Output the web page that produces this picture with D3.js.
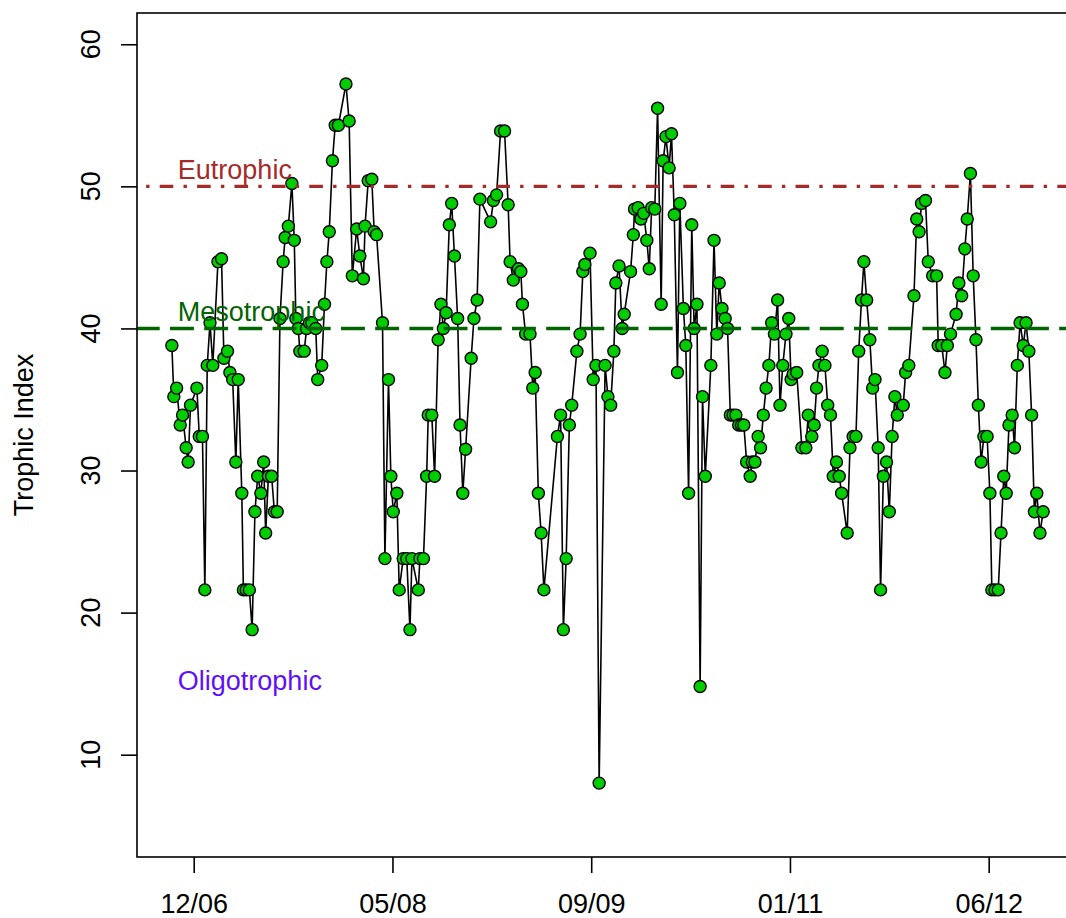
<!DOCTYPE html>
<html>
<head>
<meta charset="utf-8">
<script src="https://cdn.jsdelivr.net/npm/d3@7"></script>
<style>
  html, body { margin: 0; padding: 0; background: #ffffff; }
  svg { display: block; }
  text { font-family: "Liberation Sans", Arial, Helvetica, sans-serif; }
</style>
</head>
<body>
<svg id="chart" width="1066" height="918"></svg>
<script>
// ---- data (sample dates as days since 1970-01-01, as R stores Date) ----
const sampleDays = [
  13445,13450,13457,13466,13472,13481,13486,13492,13508,13514,
  13522,13528,13534,13541,13548,13561,13570,13576,13585,13591,
  13598,13606,13612,13621,13625,13632,13640,13647,13654,13661,
  13669,13676,13681,13688,13696,13703,13710,
  13717,13725,13730,13738,13747,13753,13757,13763,13767,13778,
  13784,13791,13797,13807,13812,13822,13829,13835,13841,13849,
  13856,13864,13883,13891,13899,13910,13918,13927,13931,13939,
  13948,13954,13960,13975,13981,13990,13996,14002,14011,14017,
  14027,14036,14044,14049,14065,14069,14078,14086,14090,14099,
  14106,14115,
  14122,14128,14135,14143,14149,14156,14164,14170,14177,14184,
  14198,14205,14213,14220,14247,14254,14262,14272,14282,14291,
  14296,14304,14317,14323,14327,14335,14346,14353,14359,14367,
  14374,14381,14415,14423,14430,14437,14445,14451,14464,14472,
  14479,14484,14497,
  14505,14512,14520,14535,14542,14549,14557,14562,14570,14578,
  14583,14599,14606,14609,14618,14625,14632,14640,14646,14652,
  14660,14667,14676,14681,14688,14696,14702,14709,14717,14723,
  14732,14738,14745,14753,14759,14766,14774,14780,14787,14801,
  14809,14816,14822,14829,14837,14843,14850,14857,14864,14871,
  14878,14884,
  14891,14900,14905,14912,14920,14926,14933,14940,14947,14954,
  14961,14969,14975,14982,14990,14997,15003,15008,15017,15030,
  15040,15046,15055,15061,15067,15073,15081,15088,15095,15102,
  15109,15117,15124,15130,15144,15151,15159,15166,15173,15180,
  15186,15193,15201,15208,15214,15222,15228,15235,15243,15250,
  15257,15264,15270,15285,
  15291,15299,15312,15319,15325,15331,15341,15348,15359,15369,
  15373,15382,15390,15396,15404,15418,15425,15432,15440,15446,
  15454,15461,15468,15474,15481,15488,15496,15503,15508,15516,
  15524,15531,15538,15544,15551,15559,15565,15572,15579,15587,
  15594,15601,15608,15615,15621,15629,15637
];

const trophicIndex = [
  38.8,35.2,35.8,33.2,33.9,31.6,30.6,34.6,35.8,32.4,
  32.4,21.6,37.4,40.4,37.4,44.7,44.9,37.9,38.4,36.9,
  36.4,30.6,36.4,28.4,21.6,21.6,21.6,18.8,27.1,29.6,
  28.4,30.6,25.6,29.6,29.6,27.1,27.1,
  40.7,44.7,46.4,47.2,50.2,46.2,40.7,40.0,38.4,38.4,
  40.0,40.4,40.4,40.0,36.4,37.4,41.7,44.7,46.8,51.8,
  54.3,54.3,57.2,54.6,43.7,47.0,45.1,43.5,47.2,50.4,
  50.5,46.8,46.6,40.4,23.8,36.4,29.6,27.1,28.4,21.6,
  23.8,23.8,18.8,23.8,21.6,23.8,23.8,29.6,33.9,33.9,
  29.6,39.2,
  41.7,40.0,41.1,47.3,48.8,45.1,40.7,33.2,28.4,31.5,
  37.9,40.7,42.0,49.1,47.5,49.0,49.4,53.9,53.9,48.7,
  44.7,43.4,44.2,44.0,41.7,39.6,39.6,35.8,36.9,28.4,
  25.6,21.6,32.4,33.9,18.8,23.8,33.2,34.6,38.4,39.6,
  44.0,44.5,45.3,
  36.4,37.4,8.0,37.4,35.2,34.6,38.4,43.2,44.4,40.0,
  41.0,44.0,46.6,48.4,48.5,47.7,48.1,46.2,44.2,48.5,
  48.4,55.5,41.7,51.8,53.5,51.3,53.7,48.0,36.9,48.8,
  41.4,38.8,28.4,47.3,40.0,41.7,14.8,35.2,29.6,37.4,
  46.2,39.6,43.2,41.4,40.7,40.0,33.9,33.9,33.9,33.2,
  33.2,33.2,
  30.6,29.6,30.6,30.6,32.4,31.6,33.9,35.8,37.4,40.4,
  39.6,42.0,34.6,37.4,39.6,40.7,36.4,36.8,36.9,31.6,
  31.6,33.9,32.4,33.2,35.8,37.4,38.4,37.4,34.6,33.9,
  29.6,30.6,29.6,28.4,25.6,31.6,32.4,32.4,38.4,42.0,
  44.7,42.0,39.2,35.8,36.4,31.6,21.6,29.6,30.6,27.1,
  32.4,35.2,33.9,34.6,
  36.9,37.4,42.3,47.7,46.8,48.8,49.0,44.7,43.7,43.7,
  38.8,38.8,36.9,38.8,39.6,41.0,43.2,42.3,45.6,47.7,
  50.9,43.7,39.2,34.6,30.6,32.4,32.4,28.4,21.6,21.6,
  21.6,25.6,29.6,28.4,33.2,33.9,31.6,37.4,40.4,38.8,
  40.4,38.4,33.9,27.1,28.4,25.6,27.1
];

const xTickDays = [13500, 14000, 14500, 15000, 15500];
const yTicks = [10, 20, 30, 40, 50, 60];
const yLimits = [5, 60];
const thresholdValues = [50, 40];
const zoneLabels = ["Eutrophic", "Mesotrophic", "Oligotrophic"];
const zoneLabelValues = [51.2, 41.2, 15.2];
const zoneLabelDay = 13460;
const yTitle = "Trophic Index";

// ---- styles ----
const zoneColors = ["#A52A2A", "#006400", "#5F10FA"];
const thresholdColors = ["#A52A2A", "#006400"];
const thresholdDash = ["13.6,10.2,3.4,10.2", "23.9,10.3"];
const thresholdDashOffset = [14.7, 1.2];
const FONT = 27;

// ---- layout ----
const plot = { left: 137, right: 1078, top: 13, bottom: 857 };
const toDate = d => new Date(Date.UTC(1970, 0, 1) + d * 864e5);

const dExt = d3.extent(sampleDays);
const dSpan = dExt[1] - dExt[0];
const x = d3.scaleUtc()
  .domain([toDate(dExt[0] - 0.04 * dSpan), toDate(dExt[1] + 0.04 * dSpan)])
  .range([plot.left, plot.right]);

const ySpan = yLimits[1] - yLimits[0];
const y = d3.scaleLinear()
  .domain([yLimits[0] - 0.04 * ySpan, yLimits[1] + 0.04 * ySpan])
  .range([plot.bottom, plot.top]);

const svg = d3.select("#chart");
svg.append("rect").attr("width", 1066).attr("height", 918).attr("fill", "#ffffff");

svg.append("clipPath").attr("id", "plotClip")
  .append("rect")
  .attr("x", plot.left).attr("y", plot.top)
  .attr("width", plot.right - plot.left).attr("height", plot.bottom - plot.top);

const data = sampleDays.map((d, i) => ({ date: toDate(d), value: trophicIndex[i] }));

const gPlot = svg.append("g").attr("clip-path", "url(#plotClip)");

// connecting line
gPlot.append("path")
  .datum(data)
  .attr("fill", "none")
  .attr("stroke", "#000000")
  .attr("stroke-width", 1.6)
  .attr("stroke-linejoin", "round")
  .attr("d", d3.line().x(d => x(d.date)).y(d => y(d.value)));

// points
gPlot.selectAll("circle.pt")
  .data(data)
  .join("circle")
  .attr("class", "pt")
  .attr("cx", d => x(d.date))
  .attr("cy", d => y(d.value))
  .attr("r", 6.0)
  .attr("fill", "#00CD00")
  .attr("stroke", "#000000")
  .attr("stroke-width", 1.4);

// threshold lines
gPlot.selectAll("line.thr")
  .data(thresholdValues)
  .join("line")
  .attr("class", "thr")
  .attr("x1", plot.left).attr("x2", plot.right)
  .attr("y1", d => y(d)).attr("y2", d => y(d))
  .attr("stroke", (d, i) => thresholdColors[i])
  .attr("stroke-width", 3.4)
  .attr("stroke-dasharray", (d, i) => thresholdDash[i])
  .attr("stroke-dashoffset", (d, i) => thresholdDashOffset[i]);

// zone labels
svg.selectAll("text.zone")
  .data(zoneLabels)
  .join("text")
  .attr("class", "zone")
  .attr("x", x(toDate(zoneLabelDay)))
  .attr("y", (d, i) => y(zoneLabelValues[i]))
  .attr("dy", "0.35em")
  .attr("font-size", FONT)
  .attr("fill", (d, i) => zoneColors[i])
  .text(d => d);

// box
svg.append("rect")
  .attr("x", plot.left).attr("y", plot.top)
  .attr("width", plot.right - plot.left).attr("height", plot.bottom - plot.top)
  .attr("fill", "none").attr("stroke", "#000000").attr("stroke-width", 1.6);

// x axis
const xAxis = d3.axisBottom(x)
  .tickValues(xTickDays.map(toDate))
  .tickFormat(d3.utcFormat("%m/%y"))
  .tickSize(16)
  .tickPadding(21);
const gx = svg.append("g").attr("transform", `translate(0,${plot.bottom})`).call(xAxis);
gx.select(".domain").remove();
gx.selectAll(".tick line").attr("stroke", "#000000").attr("stroke-width", 1.6);
gx.selectAll(".tick text")
  .attr("font-size", FONT)
  .attr("font-family", "'Liberation Sans', Arial, Helvetica, sans-serif")
  .attr("fill", "#000000");

// y axis
const yAxis = d3.axisLeft(y).tickValues(yTicks).tickSize(16).tickFormat("");
const gy = svg.append("g").attr("transform", `translate(${plot.left},0)`).call(yAxis);
gy.select(".domain").remove();
gy.selectAll(".tick line").attr("stroke", "#000000").attr("stroke-width", 1.6);

svg.selectAll("text.ytick")
  .data(yTicks)
  .join("text")
  .attr("class", "ytick")
  .attr("transform", d => `translate(100,${y(d)}) rotate(-90)`)
  .attr("text-anchor", "middle")
  .attr("font-size", FONT)
  .attr("fill", "#000000")
  .text(d => d);

// y title
svg.append("text")
  .attr("transform", `translate(33,${(plot.top + plot.bottom) / 2}) rotate(-90)`)
  .attr("text-anchor", "middle")
  .attr("font-size", FONT)
  .attr("fill", "#000000")
  .text(yTitle);
</script>
</body>
</html>
